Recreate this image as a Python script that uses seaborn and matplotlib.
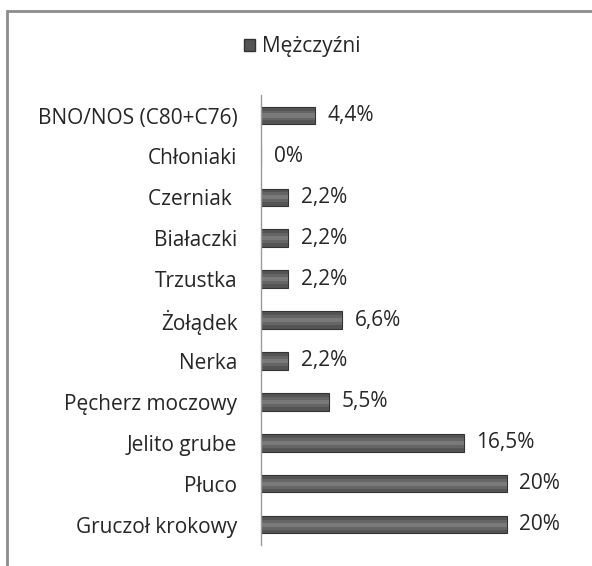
import pandas as pd
import matplotlib.pyplot as plt
import seaborn as sns
from matplotlib.patches import Patch, Rectangle

categories = ['BNO/NOS (C80+C76)', 'Chłoniaki', 'Czerniak ', 'Białaczki', 'Trzustka',
              'Żołądek', 'Nerka', 'Pęcherz moczowy', 'Jelito grube', 'Płuco',
              'Gruczoł krokowy']
values = [4.4, 0, 2.2, 2.2, 2.2, 6.6, 2.2, 5.5, 16.5, 20, 20]
value_labels = ['4,4%', '0%', '2,2%', '2,2%', '2,2%', '6,6%', '2,2%', '5,5%',
                '16,5%', '20%', '20%']
series_name = 'Mężczyźni'

sns.set_style('white')
plt.rcParams['font.family'] = ['Open Sans', 'DejaVu Sans']
fs = 15

df = pd.DataFrame({'kategoria': categories, 'procent': values})

fig = plt.figure(figsize=(5.92, 5.66), dpi=100)
ax = fig.add_axes([0.441, 0.037, 0.498, 0.795])

bar_color = '#545454'
sns.barplot(data=df, x='procent', y='kategoria', orient='h', color=bar_color,
            width=0.43, saturation=1, edgecolor='#333333', linewidth=0.8, ax=ax)
n_bars = len(ax.patches)
# soft highlight bands to mimic the bevelled Excel bars
sns.barplot(data=df, x='procent', y='kategoria', orient='h', color='#7a7a7a',
            width=0.24, saturation=1, linewidth=0, alpha=0.45, ax=ax)
sns.barplot(data=df, x='procent', y='kategoria', orient='h', color='#8e8e8e',
            width=0.1, saturation=1, linewidth=0, alpha=0.5, ax=ax)

for patch, txt in zip(ax.patches[:n_bars], value_labels):
    ax.annotate(txt, (patch.get_width(), patch.get_y() + patch.get_height() / 2),
                xytext=(9, 0), textcoords='offset points', va='center', ha='left',
                fontsize=fs, color='#262626')

ax.set_xlim(0, 24)
ax.set_ylim(len(categories) - 0.5, -0.5)
ax.set_xlabel('')
ax.set_ylabel('')
ax.set_xticks([])
ax.tick_params(axis='y', length=0, pad=17, labelsize=fs, labelcolor='#262626')
for side in ['top', 'right', 'bottom']:
    ax.spines[side].set_visible(False)
ax.spines['left'].set_color('#9a9a9a')
ax.spines['left'].set_linewidth(1)

fig.legend(handles=[Patch(facecolor=bar_color, edgecolor='#333333', label=series_name)],
           loc='center', bbox_to_anchor=(0.51, 0.917), frameon=False,
           fontsize=fs, handlelength=0.55, handleheight=0.55, handletextpad=0.3)

# outer chart frame
fig.patches.append(Rectangle((7 / 592, -0.05), 1.1, 1 - 11 / 566 + 0.05,
                             transform=fig.transFigure, fill=False,
                             edgecolor='#8c8c8c', linewidth=2, zorder=0))

fig.savefig('out.png', dpi=100)
